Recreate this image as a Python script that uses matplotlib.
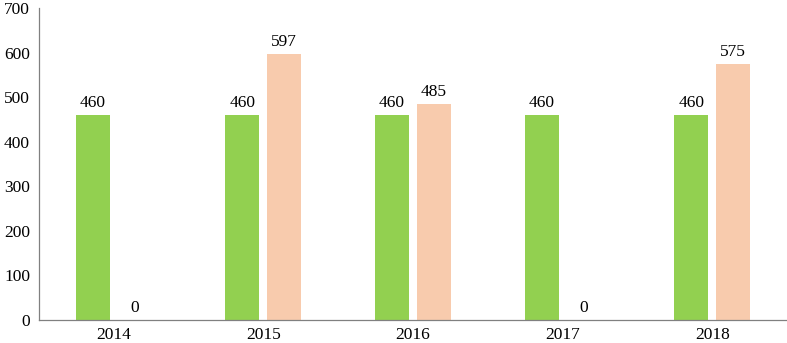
import matplotlib.pyplot as plt
import numpy as np

years = ["2014", "2015", "2016", "2017", "2018"]
green_vals = [460, 460, 460, 460, 460]
peach_vals = [0, 597, 485, 0, 575]

plt.rcParams['font.family'] = ['Liberation Serif', 'DejaVu Serif']

fig = plt.figure(figsize=(7.87, 3.43), dpi=100)
ax = fig.add_axes([39 / 787, 23 / 343, 748 / 787, 312 / 343])

x = np.arange(len(years))
w = 0.227
off = 0.14
b1 = ax.bar(x - off, green_vals, w, color="#92D050")
b2 = ax.bar(x + off, peach_vals, w, color="#F8CBAD")

for bars, vals in ((b1, green_vals), (b2, peach_vals)):
    for r, v in zip(bars, vals):
        ax.text(r.get_x() + r.get_width() / 2, v + 9, f"{v}",
                ha="center", va="bottom", fontsize=12.5)

ax.set_xlim(-0.5, len(years) - 0.5)
ax.set_ylim(0, 700)
ax.set_yticks(range(0, 701, 100))
ax.set_xticks(x)
ax.set_xticklabels(years)
ax.tick_params(length=0, labelsize=12.5)
ax.tick_params(axis="y", pad=6.5)
ax.tick_params(axis="x", pad=5)

for s in ("top", "right"):
    ax.spines[s].set_visible(False)
for s in ("left", "bottom"):
    ax.spines[s].set_color("#808080")
    ax.spines[s].set_linewidth(0.9)

fig.savefig("out.png", dpi=100)
